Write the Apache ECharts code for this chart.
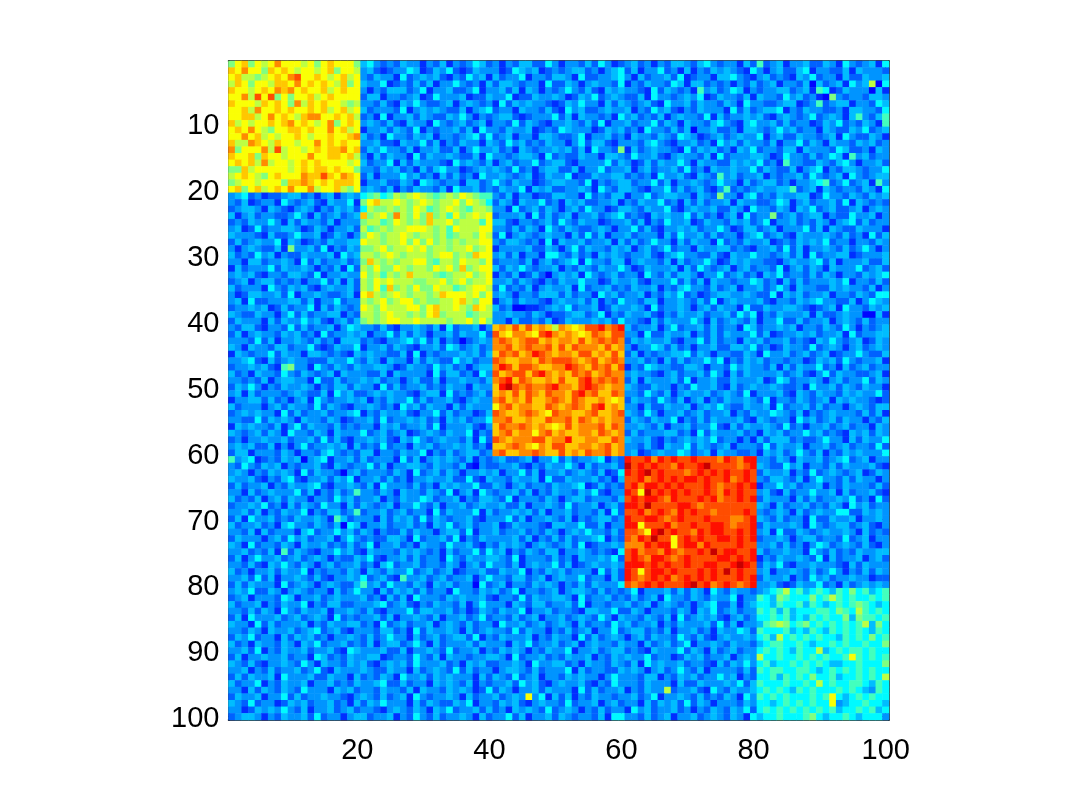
<!DOCTYPE html>
<html><head><meta charset="utf-8">
<style>html,body{margin:0;padding:0;background:#fff}#c{width:1080px;height:812px}</style>
<script src="https://cdn.jsdelivr.net/npm/echarts@6/dist/echarts.min.js"></script>
</head><body><div id="c"></div>
<script>
// Jet-scale position of each code character used in the rows below.
const codeChars = "0123456789abcde";
const codeValues = [.13,.17,.22,.27,.31,.37,.44,.50,.56,.62,.68,.74,.80,.86,.93];
// Eye-estimated cell codes, row 1 at the top; groups of five cells.
const rows = [
// rows 1-20
"79a79 89b99 98979 a9997 45323 24331 32413 23542 31324 42253 13324 25312 34231 32443 24532 33142 62341 33422 43153 23415",
"a9b99 7a9a9 89989 a7998 34212 33541 24352 12433 31254 34123 23442 31345 24133 52314 13243 43215 31342 24513 32241 43332",
"9a887 89a9b c99a9 89a89 32433 15234 34213 25341 42335 13324 43152 23345 31423 34251 23314 45321 34232 14352 33142 24334",
"8a979 98aa9 b9a9a 98a79 43351 23242 41335 32314 24432 33152 24313 43325 13243 32541 44232 31324 23413 32404 23415 34805",
"a9989 a9bab 9a99a 89a99 31324 44235 13342 23513 34241 43132 35324 21434 33215 24323 16342 35413 23344 23416 51243 33041",
"99b8c 9c797 99a89 a9999 24413 32341 25333 41224 33512 24334 31243 52343 22415 33234 35124 33241 43325 34231 07323 32443",
"a9998 a9a97 b8a9a 99878 33242 14353 22341 34323 15243 43321 24353 31424 32342 15334 24332 43153 32234 41236 23441 33254",
"99a8b 99a9a 99a9a 89a89 42333 25134 34322 41345 23314 33242 15342 23433 41325 34213 24333 15242 34451 32433 22314 43325",
"99aa8 9b9a9 8abb9 9a9a8 23151 33424 32243 53132 34421 23335 24143 32315 34232 41343 32514 23343 42134 32352 34314 63246",
"a8989 9a9ab 9a989 b79a9 34324 21433 15323 42341 33252 43213 34324 25133 42335 24314 33245 32145 33424 23312 43523 24316",
"9a9b9 8799a a9a99 b9a89 13342 43251 32334 24153 32433 41232 54333 12434 23153 32424 03342 23144 32353 42331 43224 35234",
"99b9a 89899 a9899 a99ab 42315 33243 41332 34525 23413 31443 22351 33423 14332 43254 31234 23433 51342 24332 34153 22431",
"a88ba 98a99 899b9 a9a99 33422 14335 24132 43314 32534 23243 31352 44213 33245 32133 42315 34243 32413 35243 14332 43423",
"b7999 b8c89 989a9 aab9a 24353 32413 34224 13533 42314 32334 34241 53327 14234 33215 24342 31435 23324 41433 32542 23143",
"a99a7 a9989 99b99 aa9a8 31424 33152 43343 22415 33234 43152 32243 31443 25334 21343 32415 23334 43125 33242 35416 34233",
"9a9a8 b8998 9a9a9 99989 42335 14243 33215 34324 13423 35234 42133 33524 31242 43353 14332 24343 52316 33224 32453 13342",
"77a89 99998 9a9aa 9a997 33243 42314 24533 12343 43252 31344 22413 35233 41342 33425 23143 34335 24322 41345 13244 32335",
"89a98 79a99 9baac a9ba9 24133 35342 31424 23153 34323 41243 35122 43344 23231 53342 14326 34233 41323 34253 23415 32344",
"78998 9997a aba9a 9aaa9 13342 24315 43233 14423 53243 31234 43325 13234 42335 24133 43235 33142 34423 13345 62352 34163",
"9a79a 89a9b 99b89 9a879 34324 13243 32415 33423 24335 14342 23343 15324 43213 35242 34213 62323 43344 62341 43233 24315",
// rows 21-40
"34523 12234 42313 41343 56756 87898 76787 98766 32413 31224 43315 23244 13352 34433 14327 33145 23243 34412 53324 32434",
"32412 33153 23421 43351 79a88 98789 87889 79875 24314 33523 14342 23341 32433 52314 24233 41433 22354 13423 34251 43232",
"23443 14321 34313 24342 58778 78798 67898 76887 33152 34243 13425 33124 43243 35213 43342 24315 33243 14352 34223 41343",
"41342 33223 53142 34234 a7897 b8797 a7869 78989 23334 15242 34133 42345 23214 34335 24231 34152 33723 42344 13225 33413",
"23243 35314 24332 41333 78867 98787 a8897 88869 44213 32342 53243 31233 42413 25334 12433 24342 35133 42324 31345 24233",
"34125 23344 31243 13342 86787 88999 87869 88899 33242 43153 24322 34313 35242 13343 42335 31244 23413 33524 14322 43331",
"43332 14223 53341 24313 79878 89878 87867 88798 25134 32343 31425 24133 42333 14253 34242 33134 52342 14333 43242 31524",
"24234 33514 31232 43344 98878 89797 97878 78899 32443 23151 43342 33414 24235 33142 43315 23243 34123 24343 52331 33243",
"31343 22417 33425 13243 77897 88989 78878 89789 13333 42243 13524 33243 41342 35233 14334 42321 33425 24133 43242 35313",
"42325 34132 24333 41534 88789 87888 78997 87a99 34241 33155 32423 14343 23342 13453 32242 14335 33234 24152 33441 23334",
"33144 23343 15242 33423 7a878 78899 76887 98879 23332 41342 34515 33244 13433 24142 33531 24343 32213 43345 24133 34224",
"14233 35243 34313 24152 87977 98788 79897 a7899 42435 32334 13243 24335 31243 33414 25323 41342 33251 34243 14333 52342",
"34342 13324 43251 33433 97868 78a88 87678 89789 13241 24203 43415 32342 33153 24244 31335 23423 14352 33242 43133 24345",
"23413 44232 31335 24142 87989 88877 88978 97889 33424 32132 43353 31243 34213 33524 24143 32335 42314 24233 34351 33242",
"42333 15324 34213 43342 8796a 78797 79886 78998 25232 41343 34152 33423 24334 13245 33242 34133 42353 14332 24343 32413",
"31244 33425 13343 22341 9a878 98788 78a99 98979 34313 32444 24233 15342 33413 24352 31234 43343 22514 34233 41332 43255",
"34152 23334 42413 35233 87897 89978 77889 a8799 13424 33213 43342 41325 33244 13343 24251 34333 42133 24345 33224 13543",
"23343 41242 33514 24323 98798 88997 9a889 87a98 42300 11234 35233 41243 34315 23343 13424 33152 24334 43212 34153 32434",
"43224 33135 24233 44132 88789 88787 9a788 86788 33433 24312 23442 35132 43342 13243 34233 42535 13243 33414 22343 30041",
"24333 14243 35342 13424 78789 98898 88878 89797 33142 23241 24333 43425 33214 24333 53142 34324 13352 24233 41343 24233",
// rows 41-60
"32442 13325 24233 41354 33242 13343 24152 33413 abaca caba8 ba9ac cdbcd 42334 13523 34242 33154 23343 41332 43253 13234",
"24134 33243 42315 23343 41335 24243 13342 43352 ca9bb a9cdb aba9a cbacc 33152 24334 13242 43335 24123 34342 33415 23344",
"33325 24133 43242 31444 23213 34535 24132 02343 bcbab ccaba bbaca bcbcb 24343 34213 35242 33143 42334 23214 35323 41243",
"43143 32442 33521 24335 13342 43213 34254 23423 bbcab cbbca cacbb bacab 31335 42423 13342 24435 23124 33252 34313 42343",
"14323 35243 31443 23214 34332 24151 32333 43424 acbca bdcba bbacc abaca 24132 33445 24313 32243 15334 23423 41233 53224",
"33452 14234 33222 43353 24314 33142 43225 34233 cbaab bacbc ccbab cabcb 33423 14242 33535 13243 42332 33124 34253 23341",
"23343 42167 33153 24324 33443 12433 25342 31344 bdcac cbaab bdcba cbcac 13254 33224 43133 25343 32414 24335 23142 34233",
"42314 33253 24323 41433 32241 43333 15244 23153 cabcc acdba bacbc abcbb 34332 13423 34253 14243 33342 34213 52433 22341",
"33232 41344 33152 24233 43423 31342 24133 43324 bcdac baaba caacd bcbcb 24143 33425 13342 24333 41254 23343 13423 35243",
"24353 13243 34313 24424 33152 42334 23243 31433 adecb cbbcd bbacd cbabb 43224 33132 53342 14234 33432 23153 34243 24331",
"34142 33323 43224 15342 23434 33213 44152 32342 abaca cbacb bacdb caacb 33253 24134 33423 43251 33342 14324 33243 43352",
"13344 24231 34153 23343 41324 33524 23342 13433 bcaba caabc bacba aba9a 24332 53241 34132 43343 25133 24323 41434 33212",
"42333 13424 33252 43213 34323 15342 43314 24333 9bcab baacb abcba cdaba 33142 24334 13435 32243 34152 33424 23313 43244",
"23434 33152 42334 23345 13243 34213 35242 33124 cbaab cba9c bbaab caabc 43253 13342 34233 41324 33543 24132 34333 24241",
"33225 24343 14332 43123 34252 33434 23143 42335 bbcaa baacb bcacb ababb 24324 33513 24243 33421 43233 15342 34243 31324",
"14343 32413 52433 24232 33143 42334 25133 34213 acbbc baba9 acabb bcacb 33432 41334 23352 14243 34325 23133 42342 33143",
"43234 24315 33243 14333 52342 34123 43243 35132 abcab b9bca baabb acbab 24233 34423 15243 33423 14342 33534 23214 34243",
"23133 43342 33425 24213 34342 14353 23433 24152 cbabb bccab bdaab baacb 43342 13234 34352 33131 42444 23223 53314 24335",
"34342 24131 35233 43414 23252 33143 42334 34231 aabcb a9bac caabb abcab 33242 14335 24323 41333 25243 34133 42342 33252",
"24413 33243 13324 53232 44133 24335 13242 34423 bcaab bcbaa cabac bbcab 34123 43354 23414 33223 14342 35324 13243 43335",
// rows 61-80
"63451 23243 40345 13342 42333 15241 34343 24132 34223 41335 24233 45132 dccdb dcdcc dcccb dcbdd 33243 14334 23452 34133",
"32532 43413 23342 14323 35241 33443 24332 41032 23342 13243 35314 23342 ecdcd ccbdc cdecc ccbcd 43225 34133 24243 33421",
"34313 24343 15243 32034 23332 43152 34243 13343 41335 24133 42343 24125 dcdec dcccb cdcdc dccdc 24334 13252 34323 41243",
"43342 13245 21334 24351 33424 23133 43342 25214 33243 34152 24333 42314 ccdbc dcdcd dcdcc dbcdc 32443 24135 33242 43313",
"24233 41324 33452 13343 24153 33242 31434 33522 43134 23324 33451 24232 cdbdd cdcdc ccdcb ccdcd 13353 42334 13243 33242",
"33142 34333 52413 24236 33243 14332 43251 34153 23342 41324 33243 52133 dc9ec dcdcd ccdcb dcdcc 34214 23353 34142 33421",
"42324 13424 33133 25342 33413 24335 42334 13244 32513 33243 13442 33324 cdcdd cbdcc cdcdb ccdcd 24333 14242 33435 23152",
"23343 52314 24325 33142 43234 13353 24133 42343 34224 13343 25233 41342 ddcec cccdd cbccc ccccc 43142 33423 24315 34233",
"33424 13243 35132 44236 23342 34233 15243 33514 23343 42413 34233 24152 ccdbc dcbdc dccbc cccdc 32343 14234 33552 24343",
"24153 34232 43343 16423 33142 43425 24323 34213 33524 13343 24132 34423 dccdd cbcdc ccdcc cbbcd 43242 33152 24334 13343",
"42334 23145 33243 24054 13342 33423 14352 34233 41243 33214 43352 24133 dd9cc cdbcc dccdd cbccd 24333 43153 23442 34213",
"33241 42333 14523 35342 43132 24243 31344 25133 42334 23243 13435 33242 ccb9d ecdcc bdcdd ccdcd 34152 24323 43343 14232",
"24333 13425 34233 41353 23224 43152 33425 13243 33342 41324 24233 45132 cbdce cc9cd cdccd dcdcd 23343 13442 33252 34133",
"43152 33243 14334 23242 35133 42314 33253 34213 24343 13432 34251 23343 bbbdc dd9cd dbdcc ccdcc 33424 23135 42343 24213",
"33423 24162 43213 35342 14333 24343 23142 33525 34132 43244 13343 23215 cdbcc bdcbc cdcec ddccd 42334 33153 24232 43344",
"24135 33423 42343 13224 35213 34242 33153 24334 43251 33324 23143 34352 cdcbd dcbcd ccccd dcdcd 13243 34325 14233 41342",
"33242 14353 24313 42334 23145 23342 33243 13425 33241 34335 24123 43343 dddcd cdccd ccddc cdedc 24352 13343 33214 24333",
"42313 34243 35132 33243 14324 33523 42341 23342 24335 13243 42333 15242 dc9cd dcdcc cdcdc ecdcc 34133 43242 35313 24243",
"33425 24133 43242 13343 52342 16334 23423 34135 33244 23413 43352 33142 dcbcd cdbcd cdcdc ccdcd 24334 13253 42334 33122",
"24243 33152 34313 43224 63425 33243 14342 33052 34133 24343 13242 43335 cbcdc dcccd ecdbc dcbcd 33421 24335 23142 34343",
// rows 81-100
"34352 24313 43233 14235 33142 43424 23315 33243 42351 33234 13443 24232 35133 34242 43153 24332 34568 56456 54657 56456",
"23413 33254 13342 34333 42314 24153 33243 43342 13325 24334 43152 33423 24234 15332 43243 35133 65476 55575 68656 55656",
"42334 13243 35132 44223 33452 34213 24332 41353 33143 24423 34251 33233 42341 34323 13452 24134 55465 56465 45656 76545",
"33242 43153 24334 13343 24213 33524 43342 31243 24335 13342 33214 43352 24313 33243 14352 34233 65646 45556 65765 86565",
"24153 33423 42343 15232 33424 13343 24133 42352 33242 34133 42343 25314 33243 24152 34342 13423 55656 45465 65574 76656",
"43315 24233 34132 43344 23152 34233 41343 24233 15334 23423 43142 33253 42334 13243 33425 24133 46787 56756 56565 68475",
"33243 14334 23452 34213 33244 23152 43343 14234 33252 43313 24234 13352 34423 24133 42314 33542 65556 45465 46565 65465",
"24352 33142 43423 13343 24235 33142 34234 42513 24333 41324 33152 42343 13424 33253 24213 43343 56485 65656 55465 65756",
"42314 33243 14352 33423 24134 42353 14233 34243 33143 52334 23413 43324 33142 34235 13343 24332 45665 56545 56565 56557",
"33425 13243 34233 42154 33342 24133 43252 33413 24343 13243 35133 42344 23214 33352 43142 34233 56565 46558 45656 65655",
"24133 43342 33154 23243 34412 33253 24143 32334 43152 33423 24334 13243 43352 33124 34233 41343 85565 56565 65569 65656",
"43242 13343 25314 33243 42134 34253 33423 14342 23343 15334 42314 33243 24153 43342 33214 24353 56455 65656 54455 65557",
"33413 24233 42352 14333 43224 33142 34325 24233 13443 24233 35142 33224 34313 42353 24133 33242 65665 56654 56565 65655",
"24243 34153 33422 43314 23243 15334 24343 33142 43252 34133 24343 31353 33244 13243 42335 34132 55646 56575 56455 65658",
"42335 13243 34133 42324 33452 24233 14343 24132 33425 34213 43342 13253 33243 33142 24333 43524 65556 55658 56556 65465",
"33142 43243 25333 14342 33243 32414 33243 43125 24313 34243 33152 42334 13243 38233 42153 24334 56565 46565 55656 54365",
"24334 13352 42334 33213 43242 34153 23343 14233 42343 93514 24132 43323 34235 13343 24232 43153 65656 55565 69545 65655",
"43252 33124 34233 42314 24353 33142 43224 35133 24342 13433 25233 41342 33142 43425 24313 33243 55456 56565 59345 56554",
"33124 34353 24133 42342 33213 43243 14352 33424 23143 43252 34313 24233 15342 33423 13243 24352 56565 65656 56455 65645",
"23443 13243 34252 33134 42334 13253 24233 43142 33524 13342 43233 24155 33242 34133 42343 24315 45565 55675 45565 45553"
];
const xTickLabels = ["20","40","60","80","100"];
const yTickLabels = ["10","20","30","40","50","60","70","80","90","100"];

const cats = Array.from({length:100},(_,i)=>String(i+1));
const cells = [];
rows.forEach((r,y)=>{
  r.replace(/ /g,"").split("").slice(0,100).forEach((ch,x)=>{
    cells.push([x,y,codeValues[codeChars.indexOf(ch)]]);
  });
});
const font = {fontFamily:"Liberation Sans",fontSize:29,color:"#000"};
const show = list => (i,v) => list.includes(v);
const line = {show:true,onZero:false,lineStyle:{color:"#000",width:1.5}};
const tick = {show:true,inside:true,length:7,alignWithLabel:true,lineStyle:{color:"#000",width:1}};
const mkX = (pos,labels)=>({type:"category",data:cats,position:pos,boundaryGap:true,axisLine:line,
  axisTick:{...tick,interval:show(xTickLabels)},splitLine:{show:false},
  axisLabel:{show:labels,interval:show(xTickLabels),margin:16,hideOverlap:false,...font}});
const mkY = (pos,labels)=>({type:"category",data:cats,position:pos,inverse:true,boundaryGap:true,axisLine:line,
  axisTick:{...tick,interval:show(yTickLabels)},splitLine:{show:false},
  axisLabel:{show:labels,interval:show(yTickLabels),margin:9,hideOverlap:false,...font,
    formatter:v=>`{n|${v}}`,
    rich:{n:{...font,padding:[5,0,0,0]}}}});
const chart = echarts.init(document.getElementById("c"),null,{renderer:"canvas"});
chart.setOption({
  animation:false,backgroundColor:"#fff",
  grid:{left:228.5,top:61,width:660.5,height:659,containLabel:false},
  xAxis:[mkX("bottom",true),mkX("top",false)],
  yAxis:[mkY("left",true),mkY("right",false)],
  visualMap:{show:false,min:0,max:1,dimension:2,
    inRange:{color:["#000080","#0000ff","#0080ff","#00ffff","#80ff80","#ffff00","#ff8000","#ff0000","#800000"]}},
  series:[{type:"heatmap",data:cells,xAxisIndex:0,yAxisIndex:0,progressive:0,itemStyle:{borderWidth:0}}]
});
</script></body></html>
